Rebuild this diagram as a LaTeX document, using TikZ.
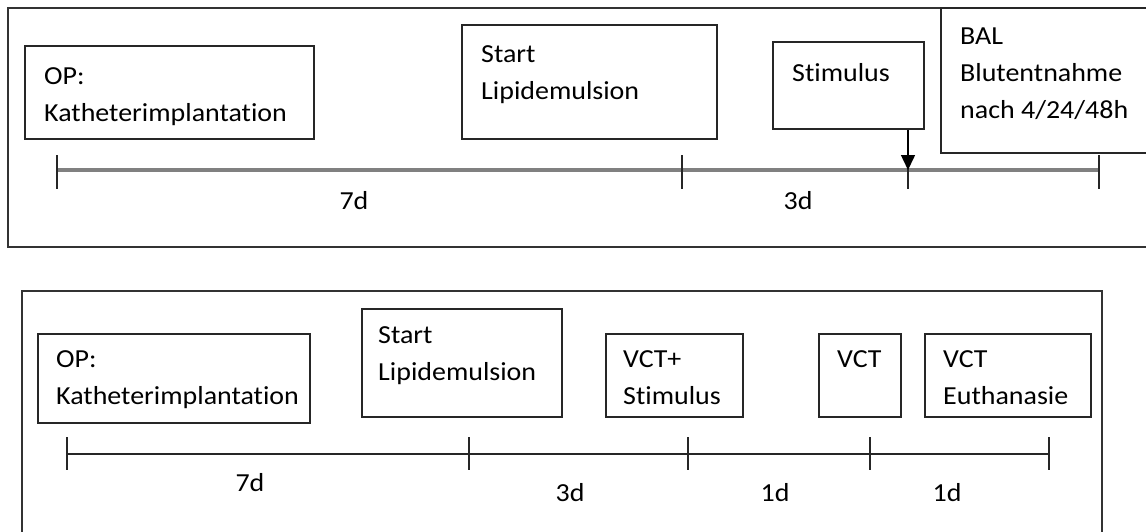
\documentclass[tikz,border=0pt]{standalone}
\usepackage{fontspec}
\setmainfont{Carlito}[FakeStretch=1.075,Ligatures=NoCommon]
\usepackage{tikz}
\usetikzlibrary{arrows.meta}

\begin{document}
\begin{tikzpicture}[x=1pt,y=-1pt,
    frame/.style={draw=black!80,line width=1.5pt},
    box/.style={shape=rectangle,draw=black!85,line width=1.5pt,inner sep=0pt},
    txt/.style={anchor=north west,inner sep=0pt,align=left,font=\fontsize{26}{37}\selectfont},
    lbl/.style={anchor=base,inner sep=0pt,font=\fontsize{26}{37}\selectfont},
    tick/.style={draw=black!85,line width=1.5pt},
    axisA/.style={draw=black!50,line width=3.2pt},
    axisB/.style={draw=black!85,line width=1.5pt}]
    \useasboundingbox (0,0) rectangle (1146,531);

    \draw[frame] (8,8) rectangle (1160,247);
    \draw[frame] (22,291) rectangle (1102,545);

    \node[box,minimum width=289,minimum height=93] (opA) at (169.5,92.5) {};
    \node[box,minimum width=255,minimum height=114] (lipA) at (589.5,82) {};
    \node[box,minimum width=151,minimum height=87] (stimA) at (848.5,85.5) {};
    \node[box,minimum width=219,minimum height=145] (balA) at (1050.5,80.5) {};
    \node[txt] (opAt) at (44,67) {OP:\\Katheterimplantation};
    \node[txt] (lipAt) at (481,45) {Start\\Lipidemulsion};
    \node[txt] (stimAt) at (792,63) {Stimulus};
    \node[txt] (balAt) at (960,28) {BAL\\Blutentnahme\\nach 4/24/48h};

    \coordinate (a0) at (57,170);
    \coordinate (a1) at (682,170);
    \coordinate (a2) at (908,170);
    \coordinate (a3) at (1099,170);
    \path[axisA] (a0) -- (a3);
    \foreach \t in {a0,a1,a2,a3}
        \path[tick] (\t) ++(0,-15) -- ++(0,34);
    \draw[line width=1.5pt,-{Triangle[width=14pt,length=15pt]}] (a2 |- stimA.south) -- (a2);
    \node[lbl] (dA1) at (354,209) {7d};
    \node[lbl] (dA2) at (798,209) {3d};

    \node[box,minimum width=272,minimum height=89] (opB) at (174,378.5) {};
    \node[box,minimum width=200,minimum height=108] (lipB) at (462,363) {};
    \node[box,minimum width=137,minimum height=83] (vctsB) at (674.5,375.5) {};
    \node[box,minimum width=82,minimum height=83] (vctB) at (860,375.5) {};
    \node[box,minimum width=166,minimum height=83] (euthB) at (1008,375.5) {};
    \node[txt] (opBt) at (56,350) {OP:\\Katheterimplantation};
    \node[txt] (lipBt) at (378,326) {Start\\Lipidemulsion};
    \node[txt] (vctsBt) at (623,350) {VCT+\\Stimulus};
    \node[txt] (vctBt) at (837,350) {VCT};
    \node[txt] (euthBt) at (943,350) {VCT\\Euthanasie};

    \coordinate (b0) at (67,454);
    \coordinate (b1) at (469,454);
    \coordinate (b2) at (688,454);
    \coordinate (b3) at (870,454);
    \coordinate (b4) at (1049,454);
    \path[axisB] (b0) -- (b4);
    \foreach \t in {b0,b1,b2,b3,b4}
        \path[tick] (\t) ++(0,-17) -- ++(0,33);
    \node[lbl] (dB1) at (250,491) {7d};
    \node[lbl] (dB2) at (570,501) {3d};
    \node[lbl] (dB3) at (775,501) {1d};
    \node[lbl] (dB4) at (947,501) {1d};
\end{tikzpicture}
\end{document}
